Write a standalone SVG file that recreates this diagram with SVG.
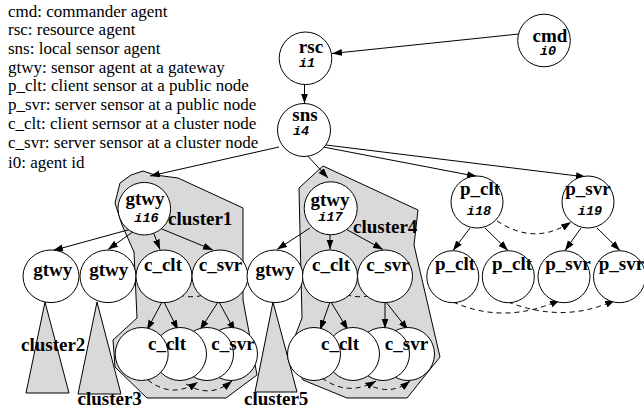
<svg xmlns="http://www.w3.org/2000/svg" width="644" height="412" viewBox="0 0 644 412">
  <defs>
    <marker id="arrow" markerUnits="userSpaceOnUse" markerWidth="11" markerHeight="8" refX="10" refY="3.5" orient="auto">
      <path d="M0,0 L10,3.5 L0,7 Z" fill="#000"/>
    </marker>
  </defs>
  <style>
    text { font-family: 'Liberation Serif', 'DejaVu Serif', serif; }
    .legend { font-size: 17px; fill: #000; }
    .lbl { font-size: 19px; font-weight: bold; fill: #000; text-anchor: middle; }
    .clbl { font-size: 19px; font-weight: bold; fill: #000; }
    text.aid { font-family: 'Liberation Mono', 'DejaVu Sans Mono', monospace; font-size: 13.5px; font-weight: bold; font-style: italic; fill: #000; text-anchor: middle; }
    .node { fill: #fff; stroke: #000; stroke-width: 1; }
    .cluster { fill: #d9d9d9; stroke: #000; stroke-width: 1; }
    .edge { fill: none; stroke: #000; stroke-width: 1; marker-end: url(#arrow); }
    .dash { fill: none; stroke: #000; stroke-width: 1; stroke-dasharray: 5 4; marker-end: url(#arrow); }
  </style>

  <!-- legend -->
  <g id="legend">
    <text class="legend" x="8" y="17">cmd: commander agent</text>
    <text class="legend" x="8" y="35">rsc: resource agent</text>
    <text class="legend" x="8" y="54">sns: local sensor agent</text>
    <text class="legend" x="8" y="72.5">gtwy: sensor agent at a gateway</text>
    <text class="legend" x="8" y="91">p_clt: client sensor at a public node</text>
    <text class="legend" x="8" y="110">p_svr: server sensor at a public node</text>
    <text class="legend" x="8" y="128.5">c_clt: client sernsor at a cluster node</text>
    <text class="legend" x="8" y="148">c_svr: server sensor at a cluster node</text>
    <text class="legend" x="8" y="168">i0: agent id</text>
  </g>

  <!-- cluster regions -->
  <g id="cluster1">
    <polygon class="cluster" points="137,318 113,340 115,367 147,398 226,398 257,375 243,300 243,208 178,178 155,175 143,171 131,175 120,183 115,203 122,225 134,252"/>
    <text class="clbl" x="168" y="225">cluster1</text>
  </g>
  <g id="cluster4">
    <polygon class="cluster" points="299,188 302,318 289,352 303,380 347,398 407,398 440,357 414,245 418,210 323,166"/>
    <text class="clbl" x="353" y="232.5">cluster4</text>
  </g>
  <g id="cluster2">
    <polygon class="cluster" points="45,302 26,393 69,393"/>
    <text class="clbl" x="21" y="351">cluster2</text>
  </g>
  <g id="cluster3">
    <polygon class="cluster" points="97,302 78,394 121,394"/>
    <text class="clbl" x="77.5" y="405">cluster3</text>
  </g>
  <g id="cluster5">
    <polygon class="cluster" points="273,302 255,392 297,392"/>
    <text class="clbl" x="244" y="405">cluster5</text>
  </g>

  <!-- connectors -->
  <g id="connectors">
    <line class="edge" x1="519" y1="34" x2="332" y2="53.5"/>
    <line class="edge" x1="304.5" y1="84.5" x2="304.5" y2="103.5"/>
    <line class="edge" x1="279" y1="147" x2="150" y2="176"/>
    <line class="edge" x1="305" y1="153" x2="328" y2="178"/>
    <line class="edge" x1="318" y1="146" x2="477" y2="176.5"/>
    <line class="edge" x1="326" y1="145" x2="586" y2="177"/>

    <line class="edge" x1="135" y1="228" x2="53" y2="250.5"/>
    <line class="edge" x1="137" y1="229" x2="108" y2="249.5"/>
    <line class="edge" x1="152" y1="229" x2="160" y2="249.5"/>
    <line class="edge" x1="157" y1="227" x2="213" y2="250"/>

    <line class="edge" x1="310" y1="228" x2="277" y2="249.5"/>
    <line class="edge" x1="330" y1="234.5" x2="330" y2="249.5"/>
    <line class="edge" x1="342" y1="227" x2="383" y2="249.5"/>

    <line class="edge" x1="470" y1="228" x2="453" y2="250.5"/>
    <line class="edge" x1="485" y1="228" x2="508" y2="250.5"/>
    <line class="edge" x1="581" y1="228" x2="565" y2="250.5"/>
    <line class="edge" x1="597" y1="228" x2="620" y2="250.5"/>

    <line class="edge" x1="162" y1="302" x2="147" y2="330"/>
    <line class="edge" x1="164" y1="302" x2="178" y2="330"/>
    <line class="edge" x1="218" y1="302" x2="200" y2="330"/>
    <line class="edge" x1="219" y1="302" x2="235" y2="331.5"/>

    <line class="edge" x1="330" y1="302" x2="320" y2="330"/>
    <line class="edge" x1="331" y1="302" x2="348" y2="330"/>
    <line class="edge" x1="385" y1="302" x2="385" y2="328.5"/>
    <line class="edge" x1="386" y1="302" x2="408" y2="330"/>

    <path class="dash" d="M163,287 Q192,306 217,288"/>
    <path class="dash" d="M330,287 Q360,306 386,288"/>
    <path class="dash" d="M497,221 Q535,246 571,222"/>
    <path class="dash" d="M453,302 Q505,325 560,300"/>
    <path class="dash" d="M508,302 Q565,324 615,300"/>
    <path class="dash" d="M148,380 Q172,399 198,382"/>
    <path class="dash" d="M186,384 Q210,399 232,381"/>
    <path class="dash" d="M322,378 Q348,397 376,381"/>
    <path class="dash" d="M365,383 Q390,397 410,381"/>
  </g>

  <!-- top nodes -->
  <g id="cmd">
    <circle class="node" cx="544" cy="40.5" r="26.3"/>
    <text class="lbl" x="550" y="41.5">cmd</text>
    <text class="aid" x="548" y="55">i0</text>
  </g>
  <g id="rsc">
    <circle class="node" cx="305.5" cy="58.3" r="26.3"/>
    <text class="lbl" x="311" y="53">rsc</text>
    <text class="aid" x="307" y="66.5">i1</text>
  </g>
  <g id="sns">
    <circle class="node" cx="304" cy="130" r="26.5"/>
    <text class="lbl" x="305" y="121">sns</text>
    <text class="aid" x="301" y="135">i4</text>
  </g>
  <g id="gtwy_i16">
    <circle class="node" cx="144.3" cy="208.7" r="26.3"/>
    <text class="lbl" x="145" y="205">gtwy</text>
    <text class="aid" x="146.5" y="221.5">i16</text>
  </g>
  <g id="gtwy_i17">
    <circle class="node" cx="330.7" cy="208.3" r="26.5"/>
    <text class="lbl" x="330" y="206">gtwy</text>
    <text class="aid" x="330.5" y="221">i17</text>
  </g>
  <g id="p_clt_i18">
    <circle class="node" cx="477" cy="202" r="26"/>
    <text class="lbl" x="480" y="195">p_clt</text>
    <text class="aid" x="479" y="215">i18</text>
  </g>
  <g id="p_svr_i19">
    <circle class="node" cx="588" cy="202" r="26"/>
    <text class="lbl" x="588" y="195">p_svr</text>
    <text class="aid" x="590" y="215">i19</text>
  </g>

  <!-- second row -->
  <g id="gtwy_c2">
    <ellipse class="node" cx="51" cy="276.3" rx="28" ry="26.3"/>
    <text class="lbl" x="52.8" y="276">gtwy</text>
  </g>
  <g id="gtwy_c3">
    <ellipse class="node" cx="108" cy="276.3" rx="28" ry="26.3"/>
    <text class="lbl" x="108.8" y="276">gtwy</text>
  </g>
  <g id="c_clt_c1">
    <ellipse class="node" cx="164" cy="276.3" rx="28" ry="26.3"/>
    <text class="lbl" x="163" y="270.5">c_clt</text>
  </g>
  <g id="c_svr_c1">
    <ellipse class="node" cx="220" cy="276.3" rx="28" ry="26.3"/>
    <text class="lbl" x="220.5" y="270.5">c_svr</text>
  </g>
  <g id="gtwy_c5">
    <ellipse class="node" cx="275" cy="276.3" rx="28" ry="26.3"/>
    <text class="lbl" x="275" y="276">gtwy</text>
  </g>
  <g id="c_clt_c4">
    <ellipse class="node" cx="330" cy="276.3" rx="27.5" ry="26.3"/>
    <text class="lbl" x="331" y="270.5">c_clt</text>
  </g>
  <g id="c_svr_c4">
    <ellipse class="node" cx="385" cy="276.3" rx="27.5" ry="26.3"/>
    <text class="lbl" x="388" y="270.5">c_svr</text>
  </g>
  <g id="p_clt_a">
    <circle class="node" cx="452.8" cy="276.7" r="26"/>
    <text class="lbl" x="455" y="269.5">p_clt</text>
  </g>
  <g id="p_clt_b">
    <circle class="node" cx="508.3" cy="276.7" r="26"/>
    <text class="lbl" x="512" y="269.5">p_clt</text>
  </g>
  <g id="p_svr_a">
    <circle class="node" cx="564" cy="276.7" r="26"/>
    <text class="lbl" x="568" y="269.5">p_svr</text>
  </g>
  <g id="p_svr_b">
    <circle class="node" cx="619.5" cy="276.7" r="26"/>
    <text class="lbl" x="621.5" y="269.5">p_svr</text>
  </g>

  <!-- stacked cluster members, back to front -->
  <g id="c_stack_c1">
    <circle class="node" cx="231" cy="354" r="26.5"/>
    <circle class="node" cx="207" cy="354" r="26.5"/>
    <circle class="node" cx="180" cy="354" r="26.5"/>
    <circle class="node" cx="141.7" cy="354" r="26.5"/>
    <text class="lbl" x="167" y="349.5">c_clt</text>
    <text class="lbl" x="233" y="349.5">c_svr</text>
  </g>
  <g id="c_stack_c4">
    <circle class="node" cx="408" cy="354" r="26.5"/>
    <circle class="node" cx="383" cy="354" r="26.5"/>
    <circle class="node" cx="353" cy="354" r="26.5"/>
    <circle class="node" cx="314" cy="354" r="26.5"/>
    <text class="lbl" x="340" y="350">c_clt</text>
    <text class="lbl" x="406.5" y="350">c_svr</text>
  </g>
</svg>
